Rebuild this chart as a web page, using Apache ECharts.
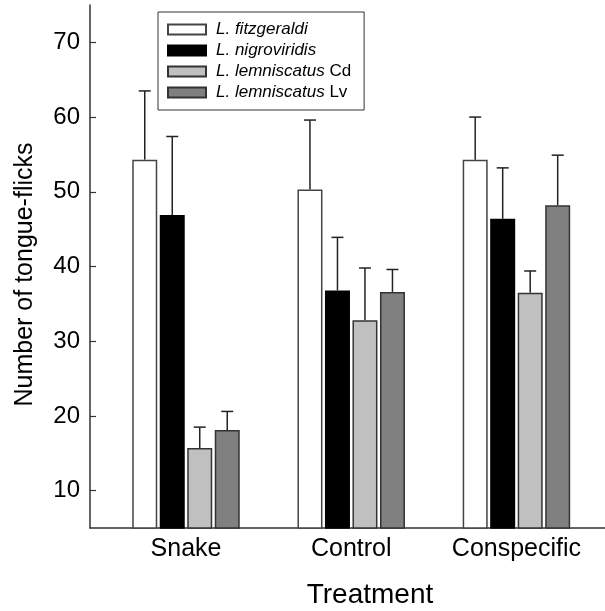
<!DOCTYPE html>
<html>
<head>
<meta charset="utf-8">
<script src="https://cdn.jsdelivr.net/npm/echarts@6/dist/echarts.min.js"></script>
<style>
html,body{margin:0;padding:0;background:#fff;}
#chart{width:605px;height:611px;}
</style>
</head>
<body>
<div id="chart"></div>
<script>
// ---- data ----
const categories = ['Snake', 'Control', 'Conspecific'];
const seriesNames = ['L. fitzgeraldi', 'L. nigroviridis', 'L. lemniscatus Cd', 'L. lemniscatus Lv'];
const fitzgeraldiMean = [54.3, 50.3, 54.3];
const fitzgeraldiErr  = [9.2, 9.3, 5.7];
const nigroviridisMean = [46.9, 36.8, 46.4];
const nigroviridisErr  = [10.5, 7.1, 6.8];
const lemniscatusCdMean = [15.7, 32.8, 36.5];
const lemniscatusCdErr  = [2.8, 7.0, 2.9];
const lemniscatusLvMean = [18.1, 36.6, 48.2];
const lemniscatusLvErr  = [2.5, 3.0, 6.7];
const yTicks = [10, 20, 30, 40, 50, 60, 70];

const means = [fitzgeraldiMean, nigroviridisMean, lemniscatusCdMean, lemniscatusLvMean];
const errs = [fitzgeraldiErr, nigroviridisErr, lemniscatusCdErr, lemniscatusLvErr];

// ---- styles ----
const FONT = '"Liberation Sans", Arial, Helvetica, sans-serif';
const styles = [
  {color: '#ffffff', borderColor: '#444444'},
  {color: '#000000', borderColor: '#000000'},
  {color: '#c0c0c0', borderColor: '#333333'},
  {color: '#808080', borderColor: '#333333'}
];
const BAR_W = 25;
const BAR_GAP = 0.1;

const chart = echarts.init(document.getElementById('chart'), null, {renderer: 'canvas'});

const series = [];
seriesNames.forEach((name, k) => {
  series.push({
    name: name,
    type: 'bar',
    barWidth: BAR_W,
    barGap: (BAR_GAP * 100) + '%',
    itemStyle: Object.assign({borderWidth: 1.5}, styles[k]),
    emphasis: {disabled: true},
    data: means[k].map((v, i) => [i + 1, v]),
    z: 2
  });
});
seriesNames.forEach((name, k) => {
  const offset = (k - (seriesNames.length - 1) / 2) * BAR_W * (1 + BAR_GAP);
  series.push({
    name: name + ' SE',
    type: 'custom',
    z: 3,
    silent: true,
    encode: {x: 0, y: 1},
    data: means[k].map((v, i) => [i + 1, v, errs[k][i]]),
    renderItem: function (params, api) {
      const x = api.value(0), y = api.value(1), e = api.value(2);
      const p0 = api.coord([x, y]);
      const p1 = api.coord([x, y + e]);
      const cx = p0[0] + offset;
      const st = {stroke: '#222', lineWidth: 1.5};
      return {
        type: 'group',
        children: [
          {type: 'line', shape: {x1: cx, y1: p0[1], x2: cx, y2: p1[1]}, style: st},
          {type: 'line', shape: {x1: cx - 6, y1: p1[1], x2: cx + 6, y2: p1[1]}, style: st}
        ]
      };
    }
  });
});

const option = {
  backgroundColor: '#fff',
  animation: false,
  textStyle: {fontFamily: FONT},
  grid: {left: 90, top: 5, right: 0, bottom: 83, containLabel: false, outerBoundsMode: 'none'},
  legend: {
    data: seriesNames,
    orient: 'vertical',
    left: 158,
    top: 12,
    padding: [9, 13, 9, 9],
    itemWidth: 38,
    itemHeight: 10,
    itemGap: 4,
    icon: 'rect',
    borderColor: '#333',
    borderWidth: 1,
    selectedMode: false,
    textStyle: {
      fontFamily: FONT, fontSize: 17, color: '#000', lineHeight: 17,
      padding: [0, 0, 0, 5],
      rich: {i: {fontFamily: FONT, fontSize: 17, fontStyle: 'italic', color: '#000', lineHeight: 17}}
    },
    formatter: function (name) {
      const m = name.match(/^(L\. \S+)(.*)$/);
      return m ? '{i|' + m[1] + '}' + m[2] : name;
    }
  },
  xAxis: {
    type: 'value',
    min: 0.419,
    max: 3.536,
    name: 'Treatment',
    nameLocation: 'middle',
    nameGap: 53,
    nameTextStyle: {fontFamily: FONT, fontSize: 28, color: '#000', padding: [0, 0, 0, 45]},
    axisLine: {show: true, lineStyle: {color: '#333', width: 1.5}},
    axisTick: {show: false},
    splitLine: {show: false},
    axisLabel: {
      customValues: [1, 2, 3],
      formatter: v => categories[Math.round(v) - 1] || '',
      fontFamily: FONT, fontSize: 25, color: '#000', margin: 9
    }
  },
  yAxis: {
    type: 'value',
    min: 5,
    max: 75,
    name: 'Number of tongue-flicks',
    nameLocation: 'middle',
    nameGap: 52,
    nameTextStyle: {fontFamily: FONT, fontSize: 25, color: '#000', padding: [0, 16, 0, 0]},
    axisLine: {show: true, lineStyle: {color: '#333', width: 1.5}},
    axisTick: {show: true, inside: true, length: 6, customValues: yTicks, lineStyle: {color: '#333', width: 1.2}},
    splitLine: {show: false},
    axisLabel: {customValues: yTicks, fontFamily: FONT, fontSize: 24, color: '#000', margin: 10}
  },
  series: series
};
chart.setOption(option);
</script>
</body>
</html>
